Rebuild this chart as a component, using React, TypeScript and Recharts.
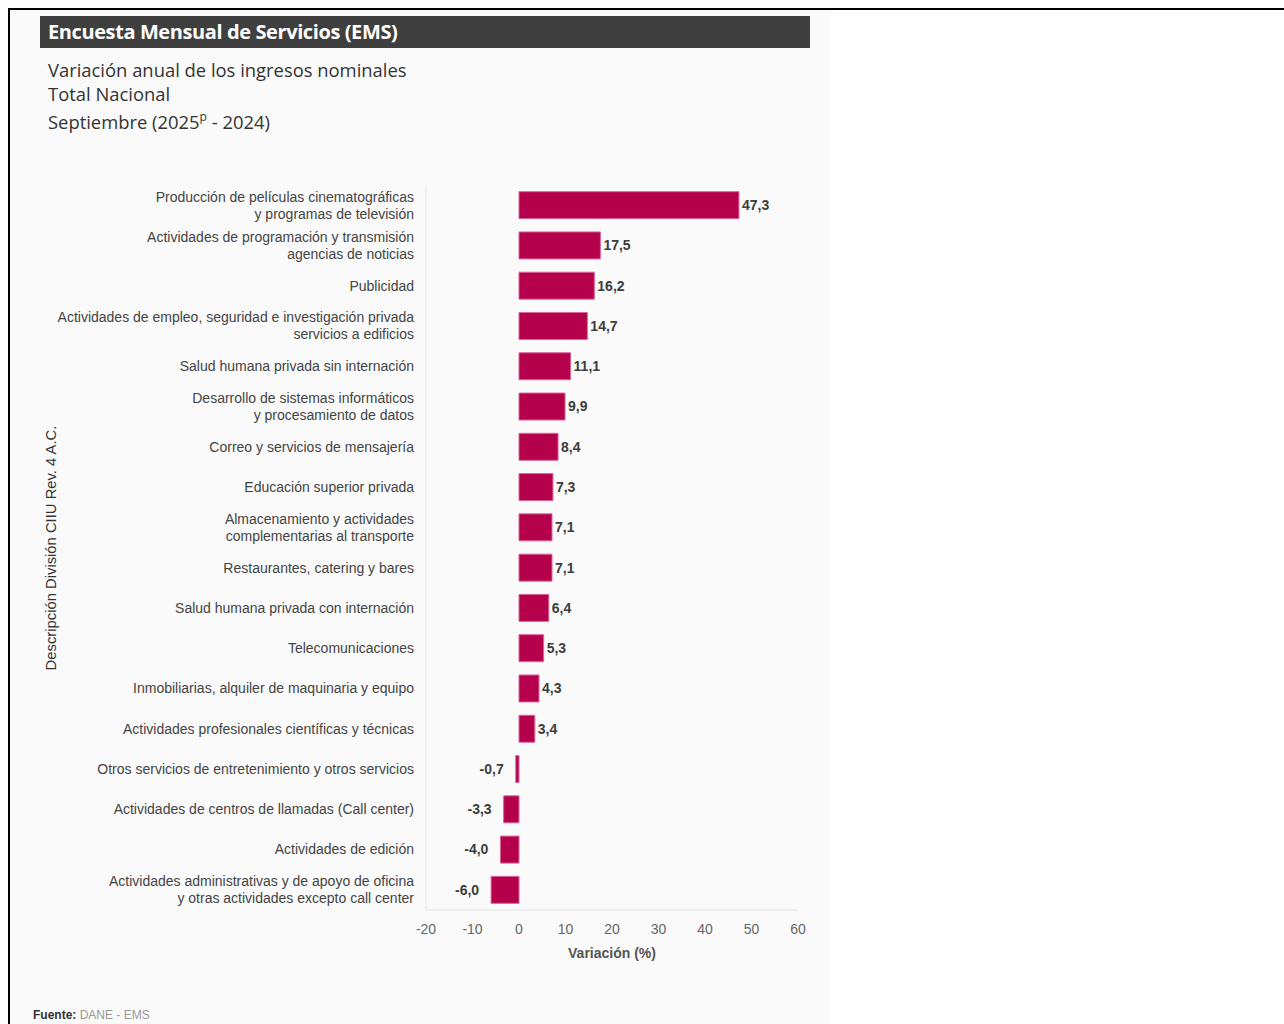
import React from "react"
import { BarChart, Bar, XAxis, YAxis, LabelList } from "recharts"

// categorías (orden de arriba hacia abajo)
const categories = [
  "Producción de películas cinematográficas\ny programas de televisión",
  "Actividades de programación y transmisión\nagencias de noticias",
  "Publicidad",
  "Actividades de empleo, seguridad e investigación privada\nservicios a edificios",
  "Salud humana privada sin internación",
  "Desarrollo de sistemas informáticos\ny procesamiento de datos",
  "Correo y servicios de mensajería",
  "Educación superior privada",
  "Almacenamiento y actividades\ncomplementarias al transporte",
  "Restaurantes, catering y bares",
  "Salud humana privada con internación",
  "Telecomunicaciones",
  "Inmobiliarias, alquiler de maquinaria y equipo",
  "Actividades profesionales científicas y técnicas",
  "Otros servicios de entretenimiento y otros servicios",
  "Actividades de centros de llamadas (Call center)",
  "Actividades de edición",
  "Actividades administrativas y de apoyo de oficina\ny otras actividades excepto call center",
]

const variacion = [47.3, 17.5, 16.2, 14.7, 11.1, 9.9, 8.4, 7.3, 7.1, 7.1, 6.4, 5.3, 4.3, 3.4, -0.7, -3.3, -4.0, -6.0]

const xTicks = [-20, -10, 0, 10, 20, 30, 40, 50, 60]

const data = categories.map((name, i) => ({ name, value: variacion[i] }))

const NARROW = '"Liberation Sans Narrow", "Arial Narrow", "Liberation Sans", sans-serif'
const OPEN = '"Open Sans", sans-serif'

const fmt = (v: number) => v.toFixed(1).replace(".", ",")

const CategoryTick = (props: any) => {
  const { x, y, payload } = props
  const lines = String(payload.value).split("\n")
  const lh = 17
  const start = -((lines.length - 1) * lh) / 2
  return (
    <text x={x - 4} y={y} textAnchor="end" fill="#444" fontSize={14} fontFamily={NARROW}>
      {lines.map((l, i) => (
        <tspan key={i} x={x - 4} y={y + start + i * lh} dy="0.35em">
          {l}
        </tspan>
      ))}
    </text>
  )
}

const ValueLabel = (props: any) => {
  const { x, y, width, height, value } = props
  const left = Math.min(x, x + width)
  const right = Math.max(x, x + width)
  const neg = value < 0
  return (
    <text
      x={neg ? left - 12 : right + 3}
      y={y + height / 2}
      dy="0.35em"
      textAnchor={neg ? "end" : "start"}
      fill="#3d3d3d"
      fontSize={14}
      fontWeight="bold"
      fontFamily={NARROW}
    >
      {fmt(value)}
    </text>
  )
}

export default function App() {
  return (
    <div style={{ position: "relative", width: 1284, height: 1024, overflow: "hidden", background: "#fff" }}>
      <style>{`body{margin:0}`}</style>
      {/* marco */}
      <div style={{ position: "absolute", left: 10, top: 10, width: 821, height: 1014, background: "#fafafa" }} />
      <div style={{ position: "absolute", left: 8, top: 8, width: 1276, height: 2, background: "#000" }} />
      <div style={{ position: "absolute", left: 8, top: 8, width: 2, height: 1016, background: "#000" }} />

      {/* encabezado */}
      <div
        style={{
          position: "absolute",
          left: 40,
          top: 16,
          width: 770,
          height: 32,
          background: "#3f3f3f",
          color: "#fff",
          fontFamily: OPEN,
          fontWeight: 700,
          fontSize: 20,
          lineHeight: "32px",
          paddingLeft: 8,
          boxSizing: "border-box",
          letterSpacing: -0.4,
          whiteSpace: "nowrap",
        }}
      >
        Encuesta Mensual de Servicios (EMS)
      </div>
      <div style={{ position: "absolute", left: 48, top: 58, fontFamily: OPEN, fontSize: 18.4, color: "#333", lineHeight: "24px", whiteSpace: "nowrap" }}>
        Variación anual de los ingresos nominales
        <br />
        Total Nacional
      </div>
      <div style={{ position: "absolute", left: 48, top: 110, fontFamily: OPEN, fontSize: 18.4, color: "#333", lineHeight: "24px", whiteSpace: "nowrap" }}>
        Septiembre (2025<sup style={{ fontSize: 12, verticalAlign: "top", lineHeight: "14px" }}>p</sup> - 2024)
      </div>

      {/* gráfico */}
      <div style={{ position: "absolute", left: 0, top: 0 }}>
        <BarChart
          width={830}
          height={1000}
          data={data}
          layout="vertical"
          margin={{ top: 185, right: 32, left: 0, bottom: 30 }}
          barCategoryGap="16.5%"
        >
          <XAxis
            type="number"
            domain={[-20, 60]}
            ticks={xTicks}
            interval={0}
            axisLine={{ stroke: "#e4e4e4" }}
            tickLine={false}
            tickMargin={8}
            height={60}
            tick={{ fill: "#666", fontSize: 14, fontFamily: NARROW }}
          />
          <YAxis
            type="category"
            dataKey="name"
            width={426}
            axisLine={{ stroke: "#e8e8e8" }}
            tickLine={false}
            interval={0}
            tick={<CategoryTick />}
          />
          <Bar dataKey="value" fill="#b5004b" stroke="#d9679a" strokeWidth={1} isAnimationActive={false}>
            <LabelList dataKey="value" content={<ValueLabel />} />
          </Bar>
        </BarChart>
      </div>

      {/* títulos de ejes */}
      <div
        style={{
          position: "absolute",
          left: 612,
          top: 953,
          transform: "translate(-50%, -50%)",
          fontFamily: NARROW,
          fontWeight: 700,
          fontSize: 14,
          color: "#555",
          whiteSpace: "nowrap",
        }}
      >
        Variación (%)
      </div>
      <div
        style={{
          position: "absolute",
          left: 51,
          top: 548,
          transform: "translate(-50%, -50%) rotate(-90deg)",
          fontFamily: NARROW,
          fontSize: 14.8,
          color: "#333",
          whiteSpace: "nowrap",
        }}
      >
        Descripción División CIIU Rev. 4 A.C.
      </div>

      {/* fuente */}
      <div style={{ position: "absolute", left: 33, top: 1008, fontFamily: NARROW, fontSize: 12, lineHeight: "14px", color: "#999", whiteSpace: "nowrap" }}>
        <span style={{ fontWeight: 700, color: "#333" }}>Fuente:</span> DANE - EMS
      </div>
    </div>
  )
}
